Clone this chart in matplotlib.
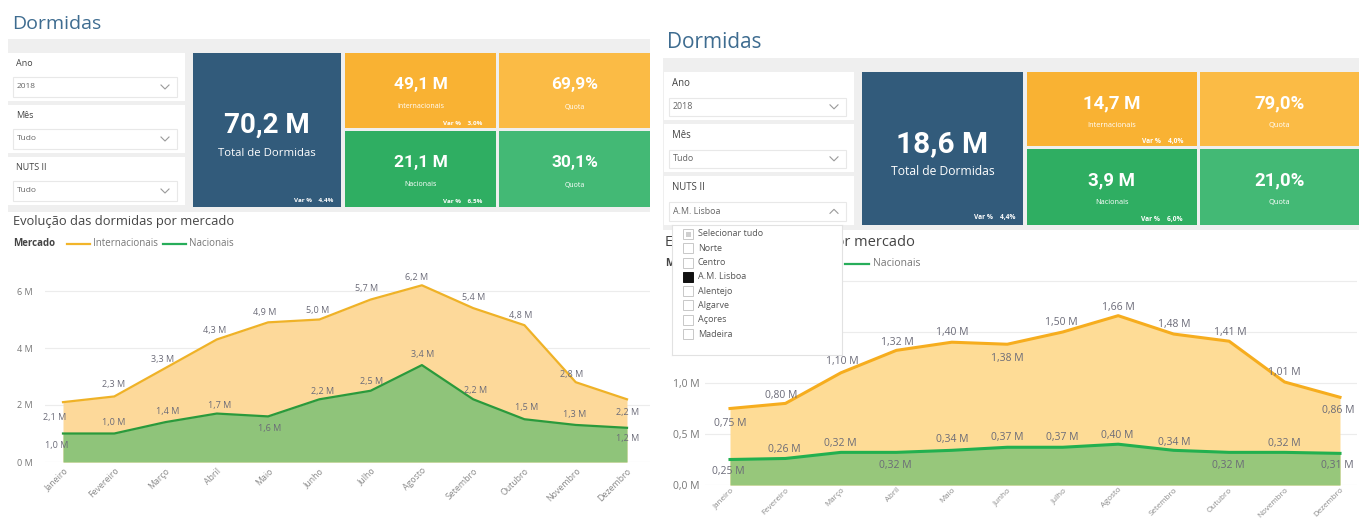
import matplotlib
matplotlib.use("Agg")
import matplotlib.pyplot as plt
from matplotlib.patches import Rectangle
from matplotlib import font_manager as fm

W, H = 1359, 522

meses = ["Janeiro", "Fevereiro", "Março", "Abril", "Maio", "Junho", "Julho",
         "Agosto", "Setembro", "Outubro", "Novembro", "Dezembro"]

# dormidas por mercado, milhões - NUTS II: Tudo
intern_pt = [2.1, 2.3, 3.3, 4.3, 4.9, 5.0, 5.7, 6.2, 5.4, 4.8, 2.8, 2.2]
nac_pt = [1.0, 1.0, 1.4, 1.7, 1.6, 2.2, 2.5, 3.4, 2.2, 1.5, 1.3, 1.2]
# NUTS II: A.M. Lisboa
intern_lx = [0.75, 0.80, 1.10, 1.32, 1.40, 1.38, 1.50, 1.66, 1.48, 1.41, 1.01, 0.86]
nac_lx = [0.25, 0.26, 0.32, 0.32, 0.34, 0.37, 0.37, 0.40, 0.34, 0.32, 0.32, 0.31]

# cartões: total, internacionais, quota, nacionais, quota
kpi_pt = ["70,2 M", "49,1 M", "69,9%", "21,1 M", "30,1%"]
var_pt = ["4,4%", "3,0%", "6,5%"]
kpi_lx = ["18,6 M", "14,7 M", "79,0%", "3,9 M", "21,0%"]
var_lx = ["4,4%", "4,0%", "6,0%"]

slicer_labels = ["Ano", "Mês", "NUTS II"]
slicer_pt = ["2018", "Tudo", "Tudo"]
slicer_lx = ["2018", "Tudo", "A.M. Lisboa"]
nuts = ["Selecionar tudo", "Norte", "Centro", "A.M. Lisboa", "Alentejo",
        "Algarve", "Açores", "Madeira"]

# label offsets in pixels (dx, dy up)
offs_ipt = [(-8, -15), (-1, 12), (-3, 8), (-2, 9), (-3, 10), (-2, 9), (-4, 11),
            (-5, 8), (0, 11), (-4, 10), (-4, 8), (1, -13)]
offs_npt = [(-6, -12), (-1, 11), (2, 11), (3, 8), (2, -12), (3, 8), (1, 9),
            (1, 11), (2, 9), (2, 12), (-1, 10), (1, -11)]
offs_ilx = [(0, -15), (-4, 8), (1, 11), (1, 8), (0, 10), (0, -14), (-1, 9),
            (0, 8), (1, 10), (1, 9), (0, 9), (-2, -13)]
offs_nlx = [(-2, -12), (-1, 9), (-1, 9), (-1, -13), (0, 11), (0, 10), (0, 10),
            (-1, 9), (1, 8), (-1, -13), (0, 9), (-3, -12)]

plt.rcParams["font.family"] = ["Open Sans", "DejaVu Sans"]
names = {f.name for f in fm.fontManager.ttflist}
NUM = "Liberation Sans Narrow" if "Liberation Sans Narrow" in names else "Roboto"
big_fs = 24 if NUM == "Liberation Sans Narrow" else 20
mid_fs = 15 if NUM == "Liberation Sans Narrow" else 12.5

TITLE = "#3e6c90"
GRAY_BG = "#efefef"
BLUE = "#325b7b"
LBL = "#6b6b78"


def px_box(x0, y0, x1, y1):
    return [x0 / W, 1 - y1 / H, (x1 - x0) / W, (y1 - y0) / H]


fig = plt.figure(figsize=(W / 100, H / 100), dpi=100)
bg = fig.add_axes([0, 0, 1, 1])
bg.set_xlim(0, W)
bg.set_ylim(H, 0)
bg.axis("off")


def rect(x0, y0, x1, y1, color, ax=bg, ec="none", lw=0):
    ax.add_patch(Rectangle((x0, y0), x1 - x0, y1 - y0, facecolor=color,
                           edgecolor=ec, linewidth=lw))


def chevron(x, y, up=False):
    d = -2 if up else 2
    bg.plot([x - 4, x, x + 4], [y - d, y + d, y - d], color="#9a9a9a", lw=0.8)


def panel(x0, x1, y_title, y_top, y_bot, slx, sly, card_x, card_y, kpi, var,
          svals, scale, open_last=False):
    bg.text(x0 + 4, y_title, "Dormidas", fontsize=14 * scale, color=TITLE,
            va="center")
    rect(x0, y_top, x1, y_bot, GRAY_BG)
    # slicers
    sx0, sx1 = slx
    for i, (lab, val) in enumerate(zip(slicer_labels, svals)):
        b0, b1 = sly[i]
        rect(sx0, b0, sx1, b1, "white")
        bg.text(sx0 + 8, b0 + 11 * scale, lab, fontsize=6.5 * scale, color="#444",
                va="center")
        rect(sx0 + 5, b0 + 24 * scale, sx1 - 8, b1 - 4, "white", ec="#e8e8e8", lw=0.8)
        yy = (b0 + 24 * scale + b1 - 4) / 2
        bg.text(sx0 + 9, yy, val, fontsize=6 * scale, color="#666", va="center")
        chevron(sx1 - 20, yy, up=(open_last and i == 2))
    # cards
    cx0, cx1, cx2, cx3 = card_x
    cy0, cy1, cy2 = card_y
    rect(cx0, cy0, cx1, cy2, BLUE)
    rect(cx1 + 4, cy0, cx2, cy1, "#f9b233")
    rect(cx2 + 3, cy0, cx3, cy1, "#fbbb45")
    rect(cx1 + 4, cy1 + 3, cx2, cy2, "#2fae62")
    rect(cx2 + 3, cy1 + 3, cx3, cy2, "#43b975")
    mx = (cx0 + cx1) / 2
    bg.text(mx, cy0 + (cy2 - cy0) * 0.47, kpi[0], fontsize=big_fs * scale,
            family=NUM, weight="bold", color="white", ha="center", va="center")
    bg.text(mx, cy0 + (cy2 - cy0) * 0.65, "Total de Dormidas", fontsize=8.2 * scale,
            color="white", ha="center", va="center")
    ax1 = (cx1 + 4 + cx2) / 2
    ax2 = (cx2 + 3 + cx3) / 2
    hgt = cy1 - cy0
    for (ky, vals, lab1) in [(cy0, (kpi[1], kpi[2]), "Internacionais"),
                             (cy1 + 3, (kpi[3], kpi[4]), "Nacionais")]:
        bg.text(ax1, ky + hgt * 0.42, vals[0], fontsize=mid_fs * scale, family=NUM,
                weight="bold", color="white", ha="center", va="center")
        bg.text(ax2, ky + hgt * 0.42, vals[1], fontsize=mid_fs * scale, family=NUM,
                weight="bold", color="white", ha="center", va="center")
        bg.text(ax1, ky + hgt * 0.72, lab1, fontsize=5 * scale, color="white",
                ha="center", va="center")
        bg.text(ax2, ky + hgt * 0.72, "Quota", fontsize=5 * scale, color="white",
                ha="center", va="center")
    bg.text(cx1 - 8, cy2 - 7, "Var %    " + var[0], fontsize=4.5 * scale,
            weight="bold", color="white", ha="right", va="center")
    bg.text(cx2 - 14, cy1 - 5, "Var %    " + var[1], fontsize=4.5 * scale,
            weight="bold", color="white", ha="right", va="center")
    bg.text(cx2 - 14, cy2 - 6, "Var %    " + var[2], fontsize=4.5 * scale,
            weight="bold", color="white", ha="right", va="center")


panel(8, 650, 24, 39, 212, (8, 185), [(53, 101), (105, 153), (157, 205)],
      (193, 341, 496, 650), (53, 128, 207), kpi_pt, var_pt, slicer_pt, 1.0)
panel(663, W, 42, 58, 230, (664, 854), [(72, 120), (124, 172), (176, 225)],
      (862, 1023, 1197, W), (72, 146, 225), kpi_lx, var_lx, slicer_lx, 1.07,
      open_last=True)


def legend(x, y, scale, gap):
    bg.text(x, y, "Mercado", fontsize=7 * scale, weight="bold", color="#444",
            va="center")
    lx = x + 54 * scale
    bg.plot([lx, lx + 23 * scale], [y, y], color="#f2b52a", lw=1.6)
    bg.text(lx + 26 * scale, y, "Internacionais", fontsize=7 * scale, color="#777",
            va="center")
    nx = lx + gap
    bg.plot([nx, nx + 23 * scale], [y, y], color="#27ad5a", lw=1.6)
    bg.text(nx + 26 * scale, y, "Nacionais", fontsize=7 * scale, color="#777",
            va="center")


bg.text(13, 222, "Evolução das dormidas por mercado", fontsize=9.3, color="#444",
        va="center")
legend(13, 244, 1.0, 96)
bg.text(665, 242, "Evolução das dormidas por mercado", fontsize=10.5, color="#444",
        va="center")
legend(665, 264, 1.07, 122)


def chart(box, xfirst, xlast, y0px, ppu, vi, vn, oi, on, fmt, yticks, ylabels,
          fs, xfs, xpad, lw, cols, ypad):
    left, top, right, bottom = box
    ax = fig.add_axes(px_box(left, top, right, bottom))
    ax.set_zorder(1)
    ax.patch.set_alpha(0)
    sp = (xlast - xfirst) / 11
    ax.set_xlim((left - xfirst) / sp, (right - xfirst) / sp)
    ax.set_ylim((y0px - bottom) / ppu, (y0px - top) / ppu)
    x = list(range(12))
    ax.fill_between(x, 0, vi, color=cols[0], lw=0, zorder=2)
    ax.fill_between(x, 0, vn, color=cols[2], lw=0, zorder=3)
    ax.plot(x, vi, color=cols[1], lw=lw, zorder=4, solid_joinstyle="round")
    ax.plot(x, vn, color=cols[3], lw=lw, zorder=5, solid_joinstyle="round")
    for vals, offs in ((vi, oi), (vn, on)):
        for xi, v, (dx, dy) in zip(x, vals, offs):
            ax.annotate(fmt(v), (xi, v), xytext=(dx, dy), textcoords="offset pixels",
                        ha="center", va="center", fontsize=fs, color=LBL, zorder=6)
    ax.set_yticks(yticks)
    ax.set_yticklabels(ylabels)
    ax.grid(axis="y", color="#ececec", lw=0.8, zorder=0)
    ax.set_axisbelow(True)
    ax.set_xticks(x)
    ax.set_xticklabels(meses, rotation=45, ha="right", rotation_mode="anchor")
    ax.tick_params(axis="y", length=0, pad=ypad, labelsize=fs, labelcolor="#777")
    ax.tick_params(axis="x", length=0, pad=xpad, labelsize=xfs, labelcolor="#8a8a8a")
    for s in ax.spines.values():
        s.set_visible(False)
    return ax


def fmt1(v):
    return f"{v:.1f} M".replace(".", ",")


def fmt2(v):
    return f"{v:.2f} M".replace(".", ",")


chart((45, 265, 650, 462), 63, 627, 462, 28.5, intern_pt, nac_pt, offs_ipt, offs_npt,
      fmt1, [0, 2, 4, 6], ["0 M", "2 M", "4 M", "6 M"], 6.5, 6.3, 3, 1.6,
      ("#fdd99a", "#efb227", "#8fc47a", "#2a9a3c"), 9)
chart((705, 265, 1357, 485), 730, 1340, 485, 102, intern_lx, nac_lx, offs_ilx, offs_nlx,
      fmt2, [0, 0.5, 1.0, 1.5, 2.0], ["0,0 M", "0,5 M", "1,0 M", "1,5 M", "2,0 M"],
      7.5, 5.8, 1, 2.2, ("#fedc96", "#f6ad1e", "#97c77b", "#22b04f"), 4)

# NUTS II dropdown list (open)
dd = fig.add_axes(px_box(672, 225, 842, 355))
dd.set_zorder(5)
dd.set_xlim(672, 842)
dd.set_ylim(355, 225)
dd.set_xticks([])
dd.set_yticks([])
for s in dd.spines.values():
    s.set_color("#e2e2e2")
    s.set_linewidth(0.8)
for i, name in enumerate(nuts):
    yy = 234 + i * 14.3
    sel = name == "A.M. Lisboa"
    rect(683, yy - 5, 693, yy + 5, "#111111" if sel else "white", ax=dd,
         ec="#111111" if sel else "#c8c8c8", lw=0.7)
    if i == 0:
        rect(685.5, yy - 2.5, 690.5, yy + 2.5, "#cfcfcf", ax=dd)
    dd.text(698, yy, name, fontsize=6.5, color="#555", va="center")

fig.savefig("out.png", dpi=100)
